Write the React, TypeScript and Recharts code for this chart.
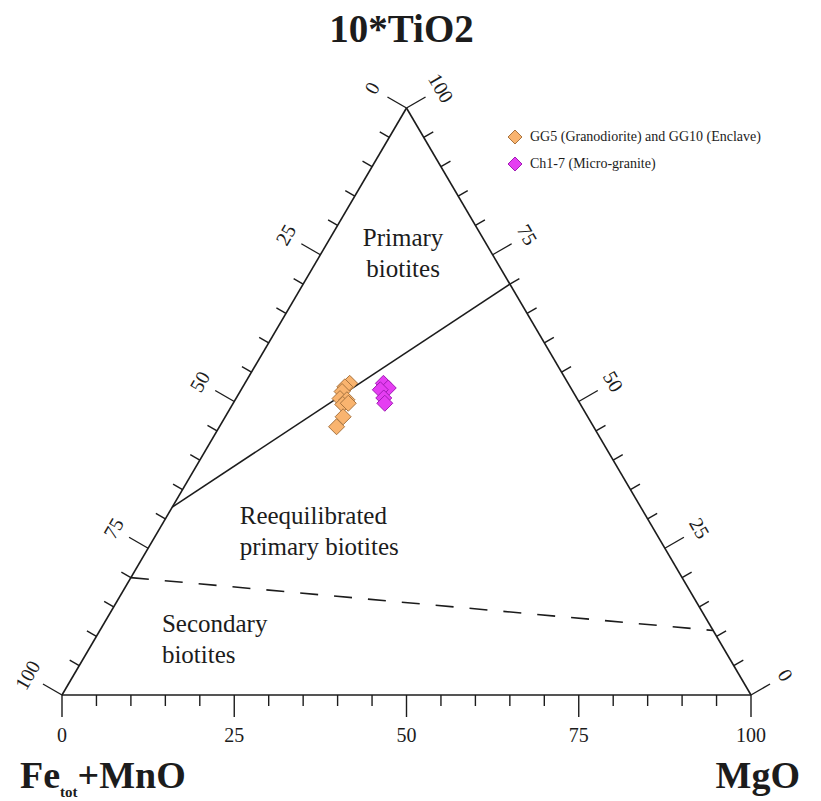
import { ScatterChart, Scatter, XAxis, YAxis, ReferenceLine, ReferenceDot } from 'recharts'

// ─── Style tokens ─────────────────────────────────────────────────────────────
const SERIF = '"Liberation Serif", "Times New Roman", serif'
const INK = '#1c1c1c'
const GG_FILL = '#F9B46F'
const GG_EDGE = '#A87440'
const CH_FILL = '#E53EF2'
const CH_EDGE = '#A11CB5'

// ─── Biotite analyses (wt% ternary: Fe_tot+MnO, MgO, 10*TiO2) ─────────────────
// GG5 (Granodiorite) and GG10 (Enclave)
const GG_FE = [31.7, 32.7, 33.5, 34.4, 33.5, 34.5, 33.6, 35.5, 37.3]
const GG_MG = [15.2, 14.8, 14.8, 15.1, 16.2, 16.0, 16.7, 17.1, 17.0]
const GG_TI = [53.1, 52.5, 51.7, 50.5, 50.3, 49.5, 49.7, 47.4, 45.7]

// Ch1-7 (Micro-granite)
const CH_FE = [26.8, 26.5, 27.8, 28.0, 28.3]
const CH_MG = [20.1, 21.2, 20.2, 21.4, 22.0]
const CH_TI = [53.1, 52.3, 52.0, 50.6, 49.7]

// ─── Axis ticks ───────────────────────────────────────────────────────────────
const TICKS = [0, 5, 10, 15, 20, 25, 30, 35, 40, 45, 50, 55, 60, 65, 70, 75, 80, 85, 90, 95, 100]

// Field boundaries, endpoints as [Fe, Mg, Ti]
const PRIMARY_BOUND: [number, number, number][] = [[68, 0, 32], [0, 30, 70]]
const SECONDARY_BOUND: [number, number, number][] = [[80, 0, 20], [0, 89, 11]]

// ternary → cartesian (x along the base, y = height)
const toXY = (fe: number, mg: number, ti: number) => {
  const s = fe + mg + ti
  return { x: ((mg + ti / 2) / s) * 100, y: (ti / s) * 100 }
}

const ggData = GG_FE.map((fe, i) => toXY(fe, GG_MG[i], GG_TI[i]))
const chData = CH_FE.map((fe, i) => toXY(fe, CH_MG[i], CH_TI[i]))

const C30 = Math.cos(Math.PI / 6)

// each edge: point on it for a tick value, outward direction, label rotation
const EDGES = [
  { key: 'mg', at: (v: number) => toXY(100 - v, v, 0), dx: 0, dy: 1, rot: 0 },
  { key: 'fe', at: (v: number) => toXY(v, 0, 100 - v), dx: -C30, dy: -0.5, rot: -60 },
  { key: 'ti', at: (v: number) => toXY(0, 100 - v, v), dx: C30, dy: -0.5, rot: 60 },
]

function Diamond({ cx, cy, fill, stroke, r = 8 }: { cx?: number; cy?: number; fill: string; stroke: string; r?: number }) {
  if (cx == null || cy == null) return null
  const pts = `${cx},${cy - r} ${cx + r},${cy} ${cx},${cy + r} ${cx - r},${cy}`
  return <polygon points={pts} fill={fill} stroke={stroke} strokeWidth={1} />
}

const tickShape = (v: number, dx: number, dy: number, rot: number) => (p: { cx?: number; cy?: number }) => {
  const cx = p.cx ?? 0
  const cy = p.cy ?? 0
  const major = v % 25 === 0
  const len = major ? 22 : 11
  const lx = cx + dx * 40
  const ly = cy + dy * 40
  return (
    <g>
      <line x1={cx} y1={cy} x2={cx + dx * len} y2={cy + dy * len} stroke={INK} strokeWidth={1.4} />
      {major && (
        <text x={lx} y={ly} transform={`rotate(${rot} ${lx} ${ly})`} textAnchor="middle" dominantBaseline="central"
          fontFamily={SERIF} fontSize={20} fill={INK}>{v}</text>
      )}
    </g>
  )
}

const fieldLabel = (lines: string[], anchor: 'start' | 'middle') => (p: { cx?: number; cy?: number }) => (
  <text x={p.cx} y={(p.cy ?? 0) - ((lines.length - 1) * 31) / 2} textAnchor={anchor} dominantBaseline="central"
    fontFamily={SERIF} fontSize={25} fill={INK}>
    {lines.map((l, i) => <tspan key={i} x={p.cx} dy={i === 0 ? 0 : 31}>{l}</tspan>)}
  </text>
)

function KeyBox() {
  const rows = [
    { fill: GG_FILL, stroke: GG_EDGE, text: 'GG5 (Granodiorite) and GG10 (Enclave)' },
    { fill: CH_FILL, stroke: CH_EDGE, text: 'Ch1-7 (Micro-granite)' },
  ]
  return (
    <div style={{ position: 'absolute', left: 506, top: 123, fontFamily: SERIF, fontSize: 14, color: INK }}>
      {rows.map(r => (
        <div key={r.text} style={{ display: 'flex', alignItems: 'center', height: 27 }}>
          <svg width={18} height={18} style={{ marginRight: 6 }}>
            <Diamond cx={9} cy={9} r={7} fill={r.fill} stroke={r.stroke} />
          </svg>
          <span>{r.text}</span>
        </div>
      ))}
    </div>
  )
}

export default function App() {
  const v = { bl: toXY(100, 0, 0), br: toXY(0, 100, 0), top: toXY(0, 0, 100) }
  const pb = PRIMARY_BOUND.map(t => toXY(...t))
  const sb = SECONDARY_BOUND.map(t => toXY(...t))

  return (
    <div style={{ position: 'absolute', left: 0, top: 0, width: 821, height: 801, background: '#fff' }}>
      <ScatterChart width={821} height={801} margin={{ top: 108, right: 70, bottom: 106, left: 62 }}>
        <XAxis type="number" dataKey="x" domain={[0, 100]} hide />
        <YAxis type="number" dataKey="y" domain={[0, 100]} hide />

        {/* triangle frame */}
        <ReferenceLine segment={[v.bl, v.br]} stroke={INK} strokeWidth={1.6} ifOverflow="visible" />
        <ReferenceLine segment={[v.bl, v.top]} stroke={INK} strokeWidth={1.6} ifOverflow="visible" />
        <ReferenceLine segment={[v.br, v.top]} stroke={INK} strokeWidth={1.6} ifOverflow="visible" />

        {/* field boundaries */}
        <ReferenceLine segment={pb} stroke={INK} strokeWidth={1.6} ifOverflow="visible" />
        <ReferenceLine segment={sb} stroke={INK} strokeWidth={1.6} strokeDasharray="18 16" ifOverflow="visible" />

        {/* ticks + tick labels on all three sides */}
        {EDGES.flatMap(e => TICKS.map(t => {
          const p = e.at(t)
          return <ReferenceDot key={`${e.key}${t}`} x={p.x} y={p.y} r={0} ifOverflow="visible"
            shape={tickShape(t, e.dx, e.dy, e.rot)} />
        }))}

        {/* field names */}
        <ReferenceDot x={49.5} y={75.4} r={0} ifOverflow="visible" shape={fieldLabel(['Primary', 'biotites'], 'middle')} />
        <ReferenceDot x={25.8} y={28.0} r={0} ifOverflow="visible" shape={fieldLabel(['Reequilibrated', 'primary biotites'], 'start')} />
        <ReferenceDot x={14.5} y={9.6} r={0} ifOverflow="visible" shape={fieldLabel(['Secondary', 'biotites'], 'start')} />

        {/* apex names */}
        <ReferenceDot x={v.top.x} y={v.top.y} r={0} ifOverflow="visible" shape={(p: { cx?: number; cy?: number }) => (
          <text x={(p.cx ?? 0) - 5} y={(p.cy ?? 0) - 66} textAnchor="middle" fontFamily={SERIF} fontWeight="bold" fontSize={39} fill={INK}>10*TiO2</text>
        )} />
        <ReferenceDot x={v.bl.x} y={v.bl.y} r={0} ifOverflow="visible" shape={(p: { cx?: number; cy?: number }) => (
          <text x={(p.cx ?? 0) - 42} y={(p.cy ?? 0) + 93} fontFamily={SERIF} fontWeight="bold" fontSize={38} fill={INK}>
            Fe<tspan fontSize={15} dy={9}>tot</tspan><tspan dy={-9}>+MnO</tspan>
          </text>
        )} />
        <ReferenceDot x={v.br.x} y={v.br.y} r={0} ifOverflow="visible" shape={(p: { cx?: number; cy?: number }) => (
          <text x={(p.cx ?? 0) + 49} y={(p.cy ?? 0) + 93} textAnchor="end" fontFamily={SERIF} fontWeight="bold" fontSize={38} fill={INK}>MgO</text>
        )} />

        <Scatter name="GG5 (Granodiorite) and GG10 (Enclave)" data={ggData} isAnimationActive={false}
          shape={(p: { cx?: number; cy?: number }) => <Diamond cx={p.cx} cy={p.cy} fill={GG_FILL} stroke={GG_EDGE} />} />
        <Scatter name="Ch1-7 (Micro-granite)" data={chData} isAnimationActive={false}
          shape={(p: { cx?: number; cy?: number }) => <Diamond cx={p.cx} cy={p.cy} fill={CH_FILL} stroke={CH_EDGE} />} />
      </ScatterChart>
      <KeyBox />
    </div>
  )
}
